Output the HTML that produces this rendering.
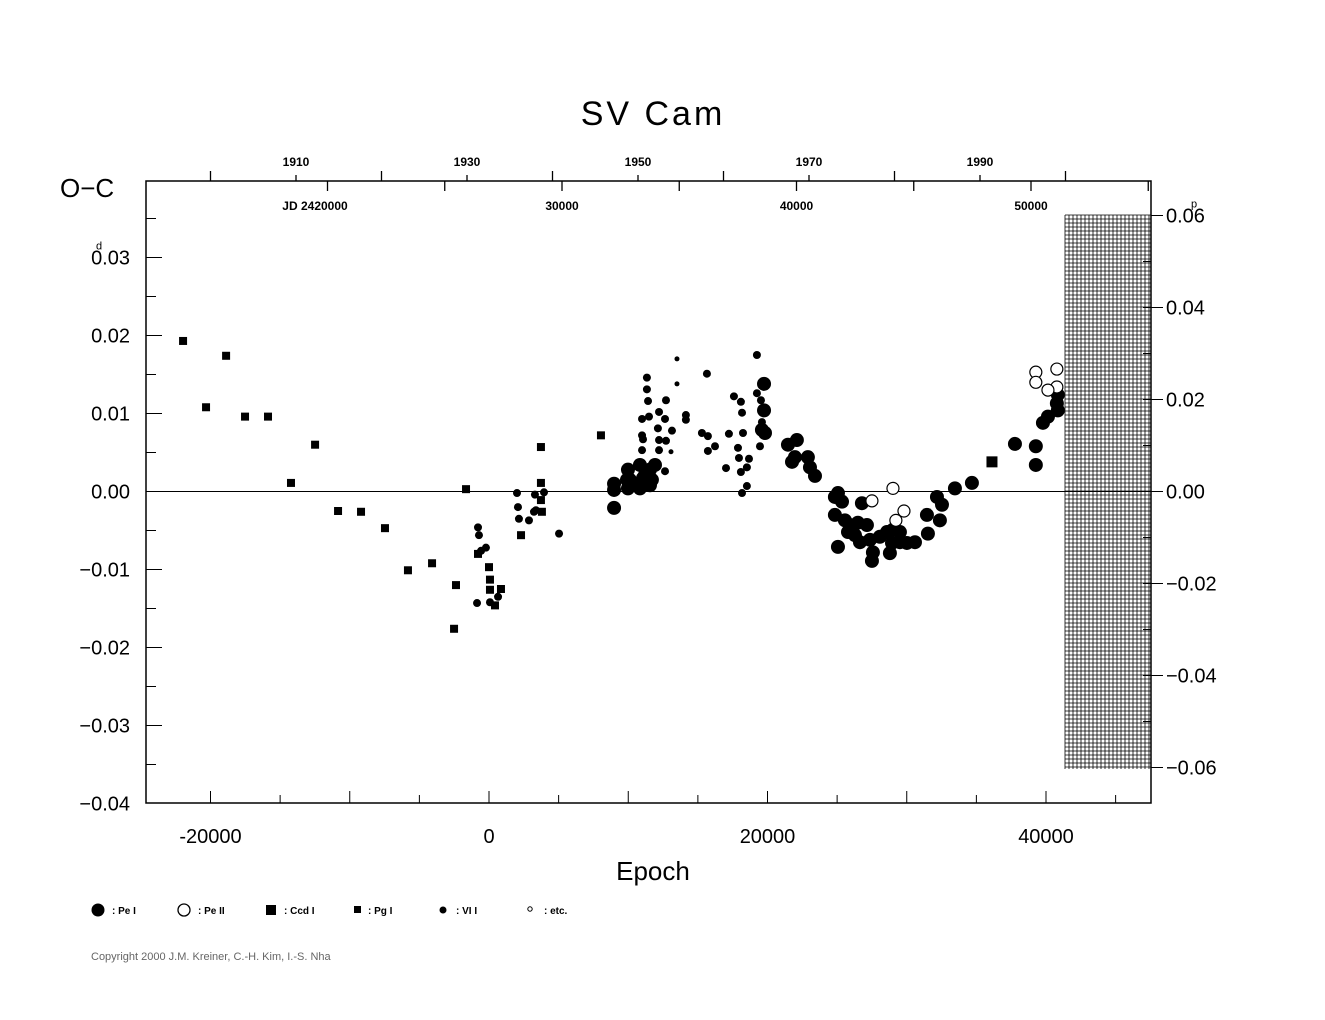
<!DOCTYPE html>
<html><head><meta charset="utf-8"><style>
html,body{margin:0;padding:0;background:#fff;}
svg{display:block;font-family:"Liberation Sans",sans-serif;}
</style></head><body>
<svg id="chart" width="1325" height="1020" viewBox="0 0 1325 1020" xmlns="http://www.w3.org/2000/svg">
<rect width="1325" height="1020" fill="#fff"/>
<text x="653" y="125" font-size="34" text-anchor="middle" letter-spacing="3">SV  Cam</text>
<text x="60" y="197" font-size="26">O−C</text>
<text x="653" y="880" font-size="26" text-anchor="middle">Epoch</text>
<text x="315" y="210" font-size="12" font-weight="bold" text-anchor="middle">JD  2420000</text>
<g id="hatch"></g>
<g id="axes"></g>
<g id="marks"></g>
<g font-size="10" font-weight="bold">
<circle cx="98" cy="910" r="6.5"/><text x="112" y="914">: Pe I</text>
<circle cx="184" cy="910" r="6" fill="#fff" stroke="#000" stroke-width="1.3"/><text x="198" y="914">: Pe II</text>
<rect x="266" y="905" width="10" height="10"/><text x="284" y="914">: Ccd I</text>
<rect x="354" y="906" width="7" height="7"/><text x="368" y="914">: Pg I</text>
<circle cx="443" cy="910" r="3.5"/><text x="456" y="914">: VI I</text>
<circle cx="530" cy="909" r="2.2" fill="#fff" stroke="#000"/><text x="544" y="914">: etc.</text>
</g>
<text x="91" y="960" font-size="11" fill="#666">Copyright 2000 J.M. Kreiner, C.-H. Kim, I.-S. Nha</text>
</svg>
<script>
const peI_E=[8980,8980,8980,9980,10120,10840,11200,11560,11920,10480,11700,10840,9980,11560,9910,11060,19750,19750,19600,19820,21470,22110,21760,21970,22900,23050,23410,25060,24840,25350,24840,25560,25920,26490,26780,27140,25780,26280,26640,25060,27360,27570,27500,28070,28580,29010,29510,28940,28790,29510,30010,30590,31520,31450,32170,32530,32380,33460,34680,37770,39270,39270,39780,40140,40780,40850,40850];
const peI_OC=[-0.0021,0.0002,0.0010,0.0028,0.0015,0.0034,0.0021,0.0028,0.0034,0.0008,0.0015,0.0004,0.0004,0.0008,0.0015,0.0017,0.0138,0.0104,0.0079,0.0075,0.0060,0.0066,0.0038,0.0044,0.0044,0.0031,0.0020,-0.0002,-0.0007,-0.0013,-0.0030,-0.0037,-0.0043,-0.0040,-0.0015,-0.0043,-0.0052,-0.0056,-0.0065,-0.0071,-0.0062,-0.0078,-0.0089,-0.0058,-0.0052,-0.0049,-0.0052,-0.0066,-0.0079,-0.0065,-0.0066,-0.0065,-0.0054,-0.0030,-0.0007,-0.0017,-0.0037,0.0004,0.0011,0.0061,0.0058,0.0034,0.0088,0.0096,0.0113,0.0124,0.0104];
const peII_E=[39270,39270,40780,40780,40140,29010,27500,29800,29220];
const peII_OC=[0.0153,0.0140,0.0157,0.0134,0.0130,0.0004,-0.0012,-0.0025,-0.0037];
const ccd_E=[36120];
const ccd_OC=[0.0038];
const pg_E=[-21970,-20320,-18880,-17520,-15870,-12490,-14220,-10840,-9190,-7470,-5820,-4090,-2370,-2510,-1650,-790,0,70,70,860,430,2300,3730,3800,3730,3730,8040];
const pg_OC=[0.0193,0.0108,0.0174,0.0096,0.0096,0.0060,0.0011,-0.0025,-0.0026,-0.0047,-0.0101,-0.0092,-0.0120,-0.0176,0.0003,-0.0080,-0.0097,-0.0113,-0.0126,-0.0125,-0.0146,-0.0056,0.0057,-0.0026,-0.0011,0.0011,0.0072];
const vi_E=[-790,-720,-570,-220,-860,70,650,2010,2080,2150,2870,3230,3300,3370,5030,3950,11340,11340,11420,12710,12210,10990,11490,12640,14140,14140,12130,13140,10990,11060,12210,12710,10990,12210,12640,15650,17590,18090,18170,15290,15720,16230,15720,17230,18240,17880,17950,18670,18520,17020,18090,18520,18170,19240,19240,19530,19600,19460];
const vi_OC=[-0.0046,-0.0056,-0.0076,-0.0072,-0.0143,-0.0142,-0.0135,-0.0002,-0.0020,-0.0035,-0.0037,-0.0026,-0.0004,-0.0024,-0.0054,-0.0001,0.0146,0.0131,0.0116,0.0117,0.0102,0.0093,0.0096,0.0093,0.0098,0.0092,0.0081,0.0078,0.0072,0.0067,0.0066,0.0065,0.0053,0.0053,0.0026,0.0151,0.0122,0.0115,0.0101,0.0075,0.0071,0.0058,0.0052,0.0074,0.0075,0.0056,0.0043,0.0042,0.0031,0.0030,0.0025,0.0007,-0.0002,0.0175,0.0126,0.0117,0.0089,0.0058];
const etc_E=[13500,13500,13070];
const etc_OC=[0.0170,0.0138,0.0051];
const xTicks=[-20000,0,20000,40000];
const yTicks=[0.03,0.02,0.01,0.00,-0.01,-0.02,-0.03,-0.04];
const yTickLabels=["0.03","0.02","0.01","0.00","−0.01","−0.02","−0.03","−0.04"];
const yRTicks=[0.06,0.04,0.02,0.00,-0.02,-0.04,-0.06];
const yRTickLabels=["0.06","0.04","0.02","0.00","−0.02","−0.04","−0.06"];
const yearTicks=[1910,1930,1950,1970,1990];
const jdTicks=[30000,40000,50000];

const L=146,R=1151,T=181,B=803;
const X=e=>489+(e)*(1046-489)/40000;
const Y=v=>491.5-v*7800;
const YR=v=>491.5-v*4600;
const YEAR=yr=>296+(yr-1910)*8.55;
const JD=j=>562+(j-30000)*0.02345;
const NS="http://www.w3.org/2000/svg";
function mk(tag,attrs,parent){const el=document.createElementNS(NS,tag);for(const k in attrs)el.setAttribute(k,attrs[k]);parent.appendChild(el);return el;}
const axes=document.getElementById('axes'),marks=document.getElementById('marks'),hatch=document.getElementById('hatch');

// hatch region
for(let x=1065;x<=1151;x+=4){const l=mk('line',{x1:x,y1:215,x2:x,y2:769,stroke:'#000','stroke-width':0.8},hatch);}
for(let y=215;y<=769;y+=4){mk('line',{x1:1065,y1:y,x2:1151,y2:y,stroke:'#000','stroke-width':0.8},hatch);}

const frame=mk('rect',{x:L,y:T,width:R-L,height:B-T,fill:'none',stroke:'#000','stroke-width':1.5},axes);


const zl=mk('line',{x1:L,y1:Y(0),x2:R,y2:Y(0),stroke:'#000','stroke-width':1},axes);



for(let e=-20000;e<=45000;e+=5000){mk('line',{x1:X(e),y1:B,x2:X(e),y2:B-(e%10000===0?12:8),stroke:'#000'},axes);}
xTicks.forEach(t=>{const tx=mk('text',{x:X(t),y:B+40,'font-size':20,'text-anchor':'middle'},axes);tx.textContent=String(t);

});
for(let v=-0.035;v<=0.036;v+=0.005){const maj=Math.abs(Math.round(v*1000)%10)<1;mk('line',{x1:L,y1:Y(v),x2:L+(maj?16:10),y2:Y(v),stroke:'#000'},axes);}
yTicks.forEach((t,i)=>{const tx=mk('text',{x:130,y:Y(t)+7,'font-size':20,'text-anchor':'end'},axes);tx.textContent=yTickLabels[i];

});
mk('text',{x:96,y:Y(0.03)-8,'font-size':11},axes).textContent='d';
yRTicks.forEach((t,i)=>{mk('line',{x1:R,y1:YR(t),x2:R+12,y2:YR(t),stroke:'#000'},axes);
const tx=mk('text',{x:1166,y:YR(t)+7,'font-size':20},axes);tx.textContent=yRTickLabels[i];

});
for(let v=-0.05;v<=0.051;v+=0.01){mk('line',{x1:R,y1:YR(v),x2:R-8,y2:YR(v),stroke:'#000'},axes);}
mk('text',{x:1191,y:YR(0.06)-8,'font-size':11},axes).textContent='p';
for(let yr=1900;yr<=2000;yr+=10){mk('line',{x1:YEAR(yr),y1:T,x2:YEAR(yr),y2:T-((yr/10)%2===0?10:6),stroke:'#000','stroke-width':1.3},axes);}
yearTicks.forEach(yr=>{const tx=mk('text',{x:YEAR(yr),y:T-15,'font-size':12,'font-weight':'bold','text-anchor':'middle'},axes);tx.textContent=String(yr);

});
for(let j=20000;j<=55000;j+=5000){mk('line',{x1:JD(j),y1:T,x2:JD(j),y2:T+10,stroke:'#000','stroke-width':1.3},axes);}
jdTicks.forEach(j=>{const tx=mk('text',{x:JD(j),y:T+29,'font-size':12,'font-weight':'bold','text-anchor':'middle'},axes);tx.textContent=String(j);

});

pg_E.forEach((e,i)=>{const r=mk('rect',{x:X(e)-4,y:Y(pg_OC[i])-4,width:8,height:8},marks);

});
ccd_E.forEach((e,i)=>{const r=mk('rect',{x:X(e)-5.5,y:Y(ccd_OC[i])-5.5,width:11,height:11},marks);

});
vi_E.forEach((e,i)=>{const c=mk('circle',{cx:X(e),cy:Y(vi_OC[i]),r:4},marks);

});
etc_E.forEach((e,i)=>{const c=mk('circle',{cx:X(e),cy:Y(etc_OC[i]),r:2.5},marks);

});
peI_E.forEach((e,i)=>{const c=mk('circle',{cx:X(e),cy:Y(peI_OC[i]),r:7},marks);

});
peII_E.forEach((e,i)=>{const c=mk('circle',{cx:X(e),cy:Y(peII_OC[i]),r:6,fill:'#fff',stroke:'#000','stroke-width':1.2},marks);

});
</script>
</body></html>
